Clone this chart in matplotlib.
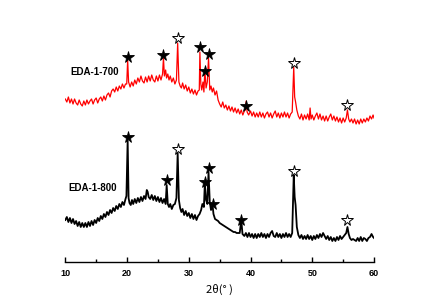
import matplotlib
matplotlib.use("Agg")
import matplotlib.pyplot as plt
from matplotlib.ticker import MultipleLocator

# ---------------- data (2theta in degrees, intensity in arbitrary units) -------------
red_x = [10.0, 10.25, 10.5, 10.75, 11.0, 11.25, 11.5, 11.75, 12.0, 12.25, 12.5, 12.75,
         13.0, 13.25, 13.5, 13.75, 14.0, 14.25, 14.5, 14.75, 15.0, 15.25, 15.5, 15.75,
         16.0, 16.25, 16.5, 16.75, 17.0, 17.25, 17.5, 17.75, 18.0, 18.25, 18.5, 18.75,
         19.0, 19.25, 19.5, 19.75, 19.95, 20.1, 20.25, 20.5, 20.75, 21.0, 21.25, 21.5,
         21.75, 22.0, 22.25, 22.5, 22.75, 23.0, 23.25, 23.5, 23.75, 24.0, 24.25, 24.5,
         24.75, 25.0, 25.25, 25.5, 25.75, 25.9, 26.05, 26.25, 26.4, 26.6, 26.8, 27.0,
         27.25, 27.5, 27.75, 28.0, 28.2, 28.4, 28.6, 28.8, 29.0, 29.25, 29.5, 29.75,
         30.0, 30.25, 30.5, 30.75, 31.0, 31.25, 31.5, 31.7, 31.8, 31.95, 32.1, 32.3,
         32.45, 32.6, 32.8, 33.0, 33.2, 33.4, 33.6, 33.8, 34.0, 34.25, 34.5, 34.75,
         35.0, 35.25, 35.5, 35.75, 36.0, 36.25, 36.5, 36.75, 37.0, 37.25, 37.5, 37.75,
         38.0, 38.25, 38.5, 38.75, 39.0, 39.15, 39.3, 39.45, 39.7, 40.0, 40.25, 40.5,
         40.75, 41.0, 41.25, 41.5, 41.75, 42.0, 42.25, 42.5, 42.75, 43.0, 43.25, 43.5,
         43.75, 44.0, 44.25, 44.5, 44.75, 45.0, 45.25, 45.5, 45.75, 46.0, 46.25, 46.5,
         46.75, 47.0, 47.15, 47.3, 47.5, 47.75, 48.0, 48.25, 48.5, 48.75, 49.0, 49.25,
         49.5, 49.65, 49.8, 50.0, 50.25, 50.5, 50.75, 51.0, 51.25, 51.5, 51.75, 52.0,
         52.25, 52.5, 52.75, 53.0, 53.25, 53.5, 53.75, 54.0, 54.25, 54.5, 54.75, 55.0,
         55.25, 55.5, 55.7, 55.9, 56.1, 56.35, 56.6, 56.85, 57.1, 57.35, 57.6, 57.85,
         58.1, 58.35, 58.6, 58.85, 59.1, 59.35, 59.6, 59.85, 60.0]
red_y = [163, 160, 165, 159, 163, 158, 163, 159, 157, 162, 158, 156,
         161, 157, 162, 158, 161, 163, 158, 162, 164, 159, 163, 165,
         161, 166, 162, 167, 169, 165, 171, 173, 170, 175, 171, 176,
         173, 178, 174, 178, 178, 202, 180, 175, 180, 176, 182, 178,
         184, 180, 186, 181, 179, 185, 180, 186, 181, 187, 182, 180,
         186, 181, 187, 182, 188, 204, 186, 192, 184, 188, 182, 186,
         180, 184, 178, 182, 219, 180, 176, 174, 179, 173, 177, 171,
         175, 169, 173, 168, 172, 167, 171, 172, 210, 178, 172, 180,
         170, 192, 174, 180, 204, 172, 176, 170, 174, 167, 171, 162,
         158, 155, 160, 154, 157, 152, 156, 151, 155, 150, 154, 149,
         153, 148, 152, 147, 151, 152, 161, 150, 147, 151, 146, 150,
         145, 149, 145, 150, 145, 149, 144, 148, 150, 145, 149, 144,
         148, 151, 145, 149, 144, 149, 145, 150, 145, 149, 144, 148,
         150, 195, 165, 160, 152, 146, 143, 148, 142, 147, 143, 148,
         142, 154, 143, 147, 142, 146, 149, 143, 148, 142, 146, 141,
         146, 141, 145, 148, 142, 146, 141, 145, 140, 144, 139, 144,
         140, 144, 152, 143, 140, 143, 139, 143, 138, 142, 138, 143,
         139, 143, 140, 144, 141, 146, 143, 147, 144]

black_x = [10.0, 10.25, 10.5, 10.75, 11.0, 11.25, 11.5, 11.75, 12.0, 12.25, 12.5, 12.75,
           13.0, 13.25, 13.5, 13.75, 14.0, 14.25, 14.5, 14.75, 15.0, 15.25, 15.5, 15.75,
           16.0, 16.25, 16.5, 16.75, 17.0, 17.25, 17.5, 17.75, 18.0, 18.25, 18.5, 18.75,
           19.0, 19.25, 19.5, 19.75, 19.9, 20.1, 20.25, 20.4, 20.6, 20.8, 21.0, 21.25,
           21.5, 21.75, 22.0, 22.25, 22.5, 22.75, 23.0, 23.2, 23.35, 23.5, 23.75, 24.0,
           24.25, 24.5, 24.75, 25.0, 25.25, 25.5, 25.75, 26.0, 26.25, 26.42, 26.6, 26.8,
           27.0, 27.25, 27.5, 27.75, 28.0, 28.2, 28.4, 28.6, 28.8, 29.0, 29.25, 29.5,
           29.75, 30.0, 30.25, 30.5, 30.75, 31.0, 31.25, 31.5, 31.75, 32.0, 32.2, 32.45,
           32.6, 32.8, 33.0, 33.2, 33.4, 33.6, 33.85, 34.0, 34.25, 34.5, 34.75, 35.0,
           35.25, 35.5, 35.75, 36.0, 36.25, 36.5, 36.75, 37.0, 37.25, 37.5, 37.75, 38.0,
           38.25, 38.5, 38.7, 39.0, 39.25, 39.5, 39.75, 40.0, 40.25, 40.5, 40.75, 41.0,
           41.25, 41.5, 41.75, 42.0, 42.25, 42.5, 42.75, 43.0, 43.25, 43.5, 43.75, 44.0,
           44.25, 44.5, 44.75, 45.0, 45.25, 45.5, 45.75, 46.0, 46.25, 46.5, 46.75, 47.0,
           47.15, 47.3, 47.5, 47.75, 48.0, 48.25, 48.5, 48.75, 49.0, 49.25, 49.5, 49.75,
           50.0, 50.25, 50.5, 50.75, 51.0, 51.25, 51.5, 51.75, 52.0, 52.25, 52.5, 52.75,
           53.0, 53.25, 53.5, 53.75, 54.0, 54.25, 54.5, 54.75, 55.0, 55.25, 55.5, 55.7,
           55.9, 56.1, 56.35, 56.6, 56.85, 57.1, 57.35, 57.6, 57.85, 58.1, 58.35, 58.6,
           58.85, 59.1, 59.35, 59.6, 59.85, 60.0]
black_y = [42, 45, 40, 44, 39, 43, 38, 41, 36, 40, 35, 39,
           35, 39, 35, 40, 36, 41, 37, 42, 39, 44, 41, 46,
           43, 48, 45, 50, 47, 52, 49, 54, 51, 56, 53, 58,
           55, 60, 57, 63, 66, 122, 64, 59, 57, 62, 58, 63,
           59, 64, 60, 65, 61, 66, 63, 72, 70, 65, 63, 67,
           62, 66, 61, 65, 60, 64, 59, 63, 58, 77, 58, 55,
           58, 53, 57, 58, 64, 109, 62, 54, 50, 53, 47, 51,
           46, 49, 44, 48, 43, 47, 42, 46, 48, 52, 58, 55,
           79, 62, 58, 90, 60, 52, 57, 48, 43, 42, 41, 39,
           38, 37, 36, 35, 34, 33, 32, 31, 30, 30, 29, 29,
           29, 42, 28, 26, 29, 25, 29, 25, 28, 24, 28, 24,
           28, 25, 29, 25, 28, 24, 28, 25, 29, 31, 26, 25,
           29, 25, 28, 24, 28, 25, 29, 25, 28, 25, 29, 87,
           65, 57, 35, 27, 24, 27, 23, 26, 23, 27, 23, 26,
           22, 26, 23, 27, 24, 28, 25, 29, 26, 23, 26, 22,
           25, 21, 24, 21, 25, 22, 26, 23, 25, 27, 29, 35,
           28, 24, 22, 23, 22, 21, 24, 21, 25, 21, 24, 23,
           21, 24, 25, 28, 25, 24]

# marker annotations (peak positions and marker heights)
red_filled_x = [20.1, 25.9, 31.8, 32.6, 33.2, 39.3]
red_filled_y = [205, 207, 215, 191, 208, 156]
red_open_x = [28.2, 47.0, 55.7]
red_open_y = [224, 199, 157]
black_filled_x = [20.1, 26.42, 32.6, 33.2, 33.85, 38.5]
black_filled_y = [125, 82, 80, 94, 58, 42]
black_open_x = [28.2, 47.0, 55.7]
black_open_y = [113, 91, 42]

labels = ["EDA-1-700", "EDA-1-800"]
label_x = [10.75, 10.45]
label_y = [190, 74]

xticks = [10, 20, 30, 40, 50, 60]
xlabel = "2θ(° )"

# ---------------- figure ----------------
W, H = 434, 305
fig = plt.figure(figsize=(W / 100, H / 100), dpi=100)
x0, x1 = 65.3, 374.0
ybot, ytop = 262.0, 20.0
ax = fig.add_axes([x0 / W, (H - ybot) / H, (x1 - x0) / W, (ybot - ytop) / H])
ax.set_xlim(10, 60)
ax.set_ylim(0, ybot - ytop)

ax.plot(red_x, red_y, color="#ff0000", lw=0.9, zorder=2)
ax.plot(black_x, black_y, color="black", lw=1.3, zorder=2)

ms = 8.5
for fx, fy in ((red_filled_x, red_filled_y), (black_filled_x, black_filled_y)):
    ax.plot(fx, fy, ls="none", marker="*", ms=ms, mfc="black", mec="black",
            mew=0.6, zorder=3)
for ox, oy in ((red_open_x, red_open_y), (black_open_x, black_open_y)):
    ax.plot(ox, oy, ls="none", marker="*", ms=ms, mfc="white", mec="black",
            mew=0.7, zorder=3)

for t, lx, ly in zip(labels, label_x, label_y):
    ax.text(lx, ly, t, fontsize=7, fontweight="bold", family="Liberation Sans",
            ha="left", va="center")

for s in ("left", "right", "top"):
    ax.spines[s].set_visible(False)
ax.spines["bottom"].set_linewidth(1.0)
ax.set_yticks([])
ax.set_xticks(xticks)
ax.xaxis.set_minor_locator(MultipleLocator(5))
ax.tick_params(axis="x", which="major", direction="in", length=3.5, width=1,
               pad=5, labelsize=6.5)
ax.tick_params(axis="x", which="minor", direction="in", length=2.5, width=1)
for lab in ax.get_xticklabels():
    lab.set_fontweight("bold")
    lab.set_family("Liberation Sans")

ax.set_xlabel(xlabel, fontsize=8, family=["Noto Sans CJK SC", "DejaVu Sans"],
              labelpad=4, fontweight="light")

fig.savefig("out.png", dpi=100)
